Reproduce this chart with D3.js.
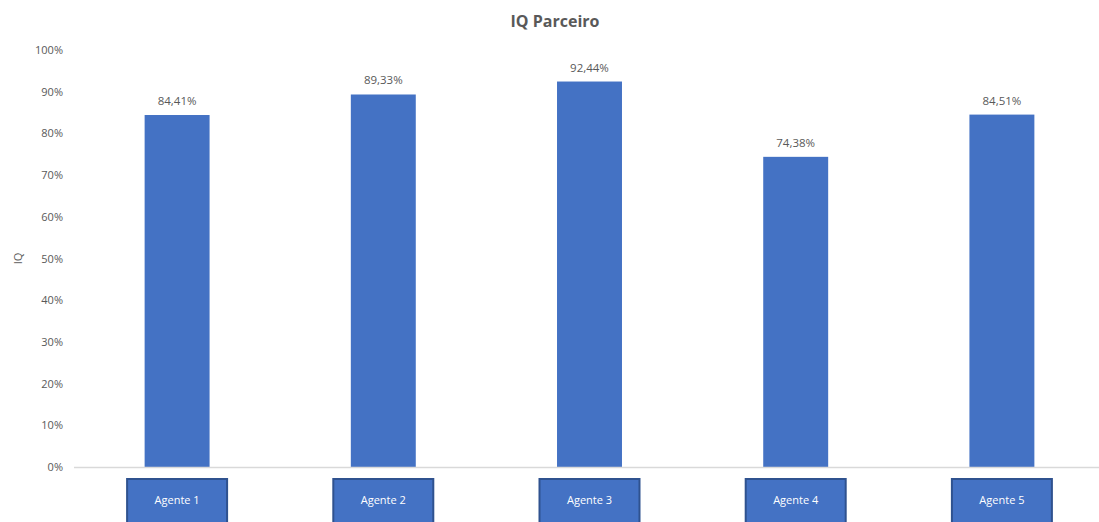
<!DOCTYPE html>
<html>
<head>
<meta charset="utf-8">
<script src="https://cdn.jsdelivr.net/npm/d3@7"></script>
<style>
  body { margin: 0; background: #fff; }
  text { font-family: "Open Sans", sans-serif; }
</style>
</head>
<body>
<div id="chart"></div>
<script>
// chart data
const agents = ["Agente 1", "Agente 2", "Agente 3", "Agente 4", "Agente 5"];
const iqValues = [84.41, 89.33, 92.44, 74.38, 84.51];
const yTicks = [0, 10, 20, 30, 40, 50, 60, 70, 80, 90, 100];

const width = 1099, height = 522;
const margin = { top: 50, bottom: 55, left: 74, right: -6 };

const svg = d3.select("#chart")
  .append("svg")
  .attr("width", width)
  .attr("height", height);

// --- scales ---
const x = d3.scaleBand()
  .domain(agents)
  .range([margin.left, width - margin.right])
  .paddingInner(0.685)
  .paddingOuter(0.3425);

const y = d3.scaleLinear()
  .domain([0, 100])
  .range([height - margin.bottom, margin.top]);

const fmt = v => v.toFixed(2).replace(".", ",") + "%";

// title
svg.append("text")
  .attr("x", 555)
  .attr("y", 27)
  .attr("text-anchor", "middle")
  .style("font-size", "16px")
  .style("font-weight", "bold")
  .style("fill", "#595959")
  .text("IQ Parceiro");

// y axis labels
const yAxis = d3.axisLeft(y)
  .tickValues(yTicks)
  .tickSize(0)
  .tickPadding(0)
  .tickFormat(d => d + "%");

svg.append("g")
  .attr("class", "axis axis--y")
  .attr("transform", `translate(${margin.left - 11}, 0)`)
  .call(yAxis)
  .call(g => g.select(".domain").remove())
  .selectAll("text")
  .style("font-family", "'Open Sans', sans-serif")
  .style("font-size", "11px")
  .style("fill", "#595959");

// y title
svg.append("text")
  .attr("transform", `translate(22, ${y(50)}) rotate(-90)`)
  .attr("text-anchor", "middle")
  .style("font-size", "11px")
  .style("fill", "#595959")
  .text("IQ");

// bars
svg.append("g")
  .attr("class", "bars")
  .selectAll("rect")
  .data(iqValues)
  .enter().append("rect")
  .attr("x", (d, i) => x(agents[i]))
  .attr("y", d => y(d))
  .attr("width", x.bandwidth())
  .attr("height", d => y(0) - y(d))
  .style("fill", "#4472C4");

// bar annotations
svg.append("g")
  .attr("class", "bar--annot")
  .selectAll("text")
  .data(iqValues)
  .enter().append("text")
  .attr("x", (d, i) => x(agents[i]) + x.bandwidth() / 2)
  .attr("y", d => y(d) - 10)
  .attr("text-anchor", "middle")
  .style("font-size", "11.5px")
  .style("fill", "#595959")
  .text(d => fmt(d));

// baseline
svg.append("line")
  .attr("x1", margin.left)
  .attr("x2", width)
  .attr("y1", y(0) + 0.5)
  .attr("y2", y(0) + 0.5)
  .style("stroke", "#D9D9D9")
  .style("stroke-width", 1.5);

// category boxes
const boxW = 100;
const cats = svg.append("g")
  .attr("class", "x-label")
  .selectAll("g")
  .data(agents)
  .enter().append("g")
  .attr("transform", d => `translate(${x(d) + x.bandwidth() / 2}, 0)`);

cats.append("rect")
  .attr("x", -boxW / 2)
  .attr("y", y(0) + 12)
  .attr("width", boxW)
  .attr("height", 50)
  .style("fill", "#4472C4")
  .style("stroke", "#2F528F")
  .style("stroke-width", 2);

cats.append("text")
  .attr("x", 0)
  .attr("y", y(0) + 37)
  .attr("text-anchor", "middle")
  .style("font-size", "11px")
  .style("fill", "#fff")
  .text(d => d);
</script>
</body>
</html>
